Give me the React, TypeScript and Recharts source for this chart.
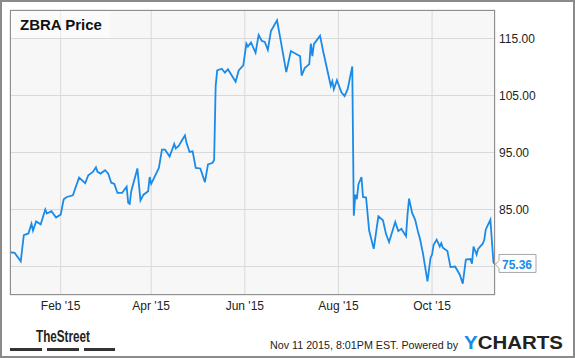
import { LineChart, Line, XAxis, YAxis, CartesianGrid, ReferenceDot } from "recharts"

// days since Jan 1 2015
const days = [
  -2, 1, 5, 7, 10, 12, 13, 15, 18, 21, 22, 25, 28, 31, 33, 35, 39, 40, 43, 47,
  49, 52, 54, 55, 57, 60, 62, 64, 66, 68, 71, 74, 75, 76, 77, 81, 83, 85, 88, 89,
  90, 95, 97, 99, 102, 105, 106, 108, 110, 112, 113, 115, 117, 119, 122, 125, 127, 130, 131, 132,
  133, 136, 138, 140, 145, 147, 150, 152, 153, 155, 158, 160, 162, 164, 166, 168, 172, 174, 178, 181,
  185, 187, 188, 190, 193, 194, 195, 196, 200, 202, 207, 208, 209, 211, 214, 216, 218, 221, 222, 223,
  224, 225, 227, 228, 230, 232, 235, 238, 241, 243, 245, 249, 251, 253, 256, 257, 258, 260, 262, 264,
  265, 267, 270, 272, 273, 274, 276, 278, 279, 280, 283, 285, 288, 291, 293, 295, 298, 299, 300, 302,
  303, 306, 307, 308, 311, 313, 314,
]

const prices = [
  77.5, 77.4, 75.9, 80.5, 80.8, 82.5, 81.3, 82.9, 82.4, 85.0, 84.3, 84.7, 83.6, 84.1, 86.8, 87.2, 87.5, 88.3, 90.6, 89.6,
  91.0, 91.6, 92.4, 91.6, 91.3, 91.9, 91.3, 89.7, 89.5, 87.9, 87.9, 89.0, 86.2, 86.0, 88.2, 92.2, 86.6, 87.6, 88.2, 90.7,
  89.5, 92.3, 95.5, 95.5, 94.3, 96.5, 95.7, 96.2, 97.1, 98.0, 96.7, 95.1, 95.2, 92.3, 92.2, 89.8, 92.9, 93.2, 93.7, 106.7,
  109.4, 109.7, 109.0, 109.6, 107.4, 109.4, 110.3, 114.1, 113.6, 114.3, 112.5, 115.6, 114.6, 114.4, 113.0, 116.3, 118.2, 115.2, 109.1, 112.8,
  112.2, 111.9, 108.5, 109.8, 110.5, 114.1, 111.9, 114.0, 115.5, 112.8, 106.7, 107.5, 106.1, 107.7, 105.5, 104.9, 106.1, 110.1, 83.9, 87.6,
  86.8, 89.4, 90.7, 87.2, 87.1, 81.3, 78.1, 83.8, 83.1, 80.7, 79.3, 82.8, 81.2, 81.6, 80.3, 84.1, 86.9, 84.4, 83.2, 80.9,
  80.0, 77.4, 72.4, 76.5, 77.1, 78.8, 79.7, 78.5, 79.1, 78.3, 77.7, 74.9, 75.0, 73.6, 72.0, 76.2, 76.3, 75.5, 78.5, 77.1,
  78.1, 79.0, 79.7, 81.5, 83.2, 75.7, 75.36,
]

const xTicks = [31, 90, 151, 212, 273]
const xTickLabels = ["Feb '15", "Apr '15", "Jun '15", "Aug '15", "Oct '15"]
const yTicks = [75, 85, 95, 105, 115]
// the 75 label sits under the last-price tag in the original, so it is left blank
const yTickLabels = ["", "85.00", "95.00", "105.00", "115.00"]

const data = days.map((d, i) => ({ d, price: prices[i] }))
const last = data[data.length - 1]

const BLUE = "#1a8be8"
const FONT = "Arial, 'Liberation Sans', sans-serif"

function EndTag(props: any) {
  const { cx, cy } = props
  if (cx == null || cy == null) return null
  return (
    <g>
      <path
        d={`M${cx + 4} ${cy - 10} H${cx + 41} V${cy + 8} H${cx + 4} V${cy + 4} L${cx + 0.5} ${cy} L${cx + 4} ${cy - 4} Z`}
        fill="#fff"
        stroke="#a8a8a8"
        strokeWidth={1}
      />
      <text x={cx + 7} y={cy + 4.5} fill={BLUE} fontSize={12} fontWeight="bold" fontFamily={FONT}>
        {last.price.toFixed(2)}
      </text>
    </g>
  )
}

export default function App() {
  return (
    <div
      style={{
        position: "absolute",
        left: 0,
        top: 0,
        width: 575,
        height: 358,
        background: "#fff",
        fontFamily: FONT,
      }}
    >
      <LineChart width={575} height={358} data={data} margin={{ top: 10, right: 0, left: 10, bottom: 43 }}>
        <CartesianGrid stroke="#d9d9d9" fill="#f7f7f7" />
        <XAxis
          dataKey="d"
          type="number"
          domain={[-2, 314]}
          ticks={xTicks}
          tickFormatter={(v) => xTickLabels[xTicks.indexOf(v)] ?? ""}
          axisLine={false}
          tickLine={false}
          tickSize={4}
          tickMargin={2}
          height={20}
          tick={{ fill: "#222", fontSize: 12, fontFamily: FONT }}
        />
        <YAxis
          orientation="right"
          domain={[70, 120]}
          ticks={yTicks}
          tickFormatter={(v) => yTickLabels[yTicks.indexOf(v)] ?? ""}
          axisLine={false}
          tickLine={false}
          tickSize={2}
          tickMargin={2}
          width={80}
          tick={{ fill: "#222", fontSize: 12, fontFamily: FONT, textAnchor: "start" }}
        />
        <Line
          dataKey="price"
          type="linear"
          stroke={BLUE}
          strokeWidth={1.8}
          dot={false}
          isAnimationActive={false}
        />
        <ReferenceDot x={last.d} y={last.price} r={0} ifOverflow="visible" shape={<EndTag />} />
      </LineChart>

      {/* outer frame, plot border, title */}
      <div style={{ position: "absolute", left: 0, top: 0, width: 575, height: 358, boxSizing: "border-box", border: "2px solid #8a8a8a", pointerEvents: "none" }} />
      <div style={{ position: "absolute", left: 10, top: 10, width: 485, height: 285, boxSizing: "border-box", border: "1px solid #8f8f8f", pointerEvents: "none" }} />
      <div
        style={{
          position: "absolute",
          left: 11,
          top: 11,
          width: 99,
          height: 27,
          background: "rgba(255,255,255,0.45)",
          fontSize: 15,
          fontWeight: "bold",
          color: "#111",
          lineHeight: "27px",
          paddingLeft: 9,
          boxSizing: "border-box",
          whiteSpace: "nowrap",
        }}
      >
        ZBRA Price
      </div>

      {/* footer */}
      <svg width={575} height={358} style={{ position: "absolute", left: 0, top: 0, pointerEvents: "none" }}>
        <text x={36} y={341.5} fontSize={16} fontWeight="bold" fontFamily={FONT} fill="#222" textLength={54} lengthAdjust="spacingAndGlyphs">
          TheStreet
        </text>
        <rect x={10} y={348} width={32} height={3} fill="#333" />
        <rect x={47} y={348} width={32} height={3} fill="#333" />
        <rect x={84} y={348} width={31} height={3} fill="#333" />
        <text x={270} y={349} fontSize={11} fontFamily={FONT} fill="#222" textLength={188} lengthAdjust="spacingAndGlyphs">
          Nov 11 2015, 8:01PM EST.  Powered by
        </text>
        <text x={464} y={348.5} fontSize={18.5} fontWeight="bold" fontFamily={FONT} textLength={99} lengthAdjust="spacingAndGlyphs">
          <tspan fill={BLUE}>Y</tspan>
          <tspan fill="#222">CHARTS</tspan>
        </text>
      </svg>
    </div>
  )
}
